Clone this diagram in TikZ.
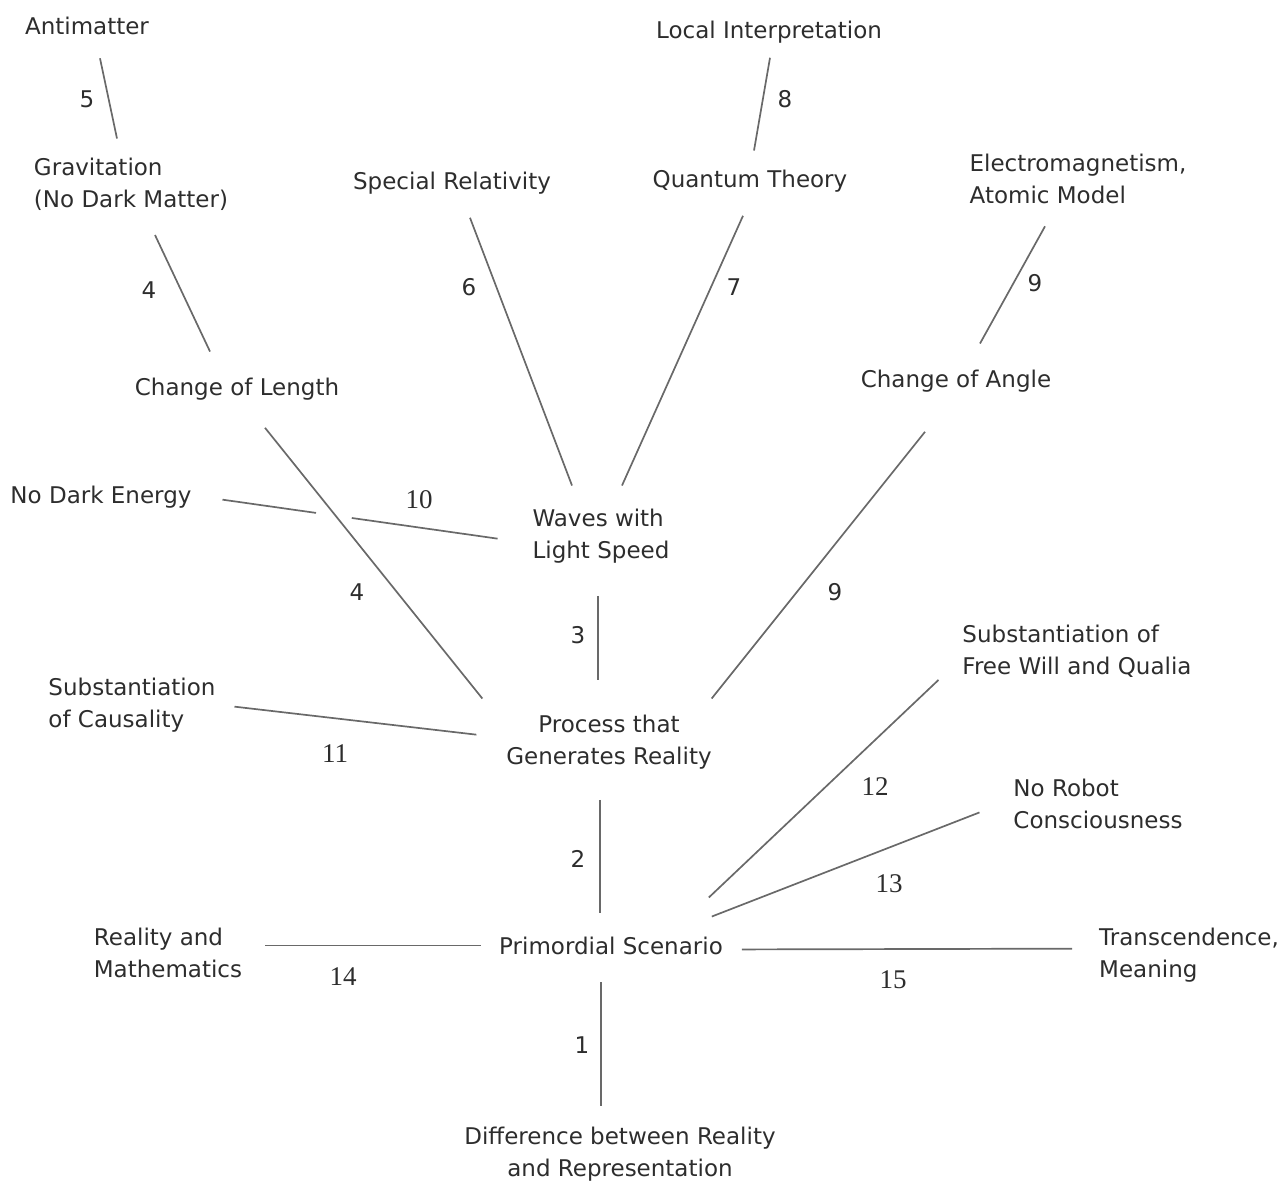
\documentclass[tikz,border=0pt]{standalone}
\usepackage{fontspec}
\setmainfont{DejaVu Sans}
\newfontfamily\numfont{Liberation Serif}
\usetikzlibrary{calc}

\definecolor{inkgray}{RGB}{45,45,45}
\definecolor{linkgray}{RGB}{105,105,105}

\begin{document}
\begin{tikzpicture}[x=1pt,y=-1pt,
    topic/.style={font=\fontsize{23}{32}\selectfont,text=inkgray,inner sep=0pt,outer sep=0pt,anchor=base},
    link/.style={draw=linkgray,line width=1.7pt},
    num/.style={font=\fontsize{23}{28}\selectfont,text=inkgray,inner sep=0pt},
    numserif/.style={font=\numfont\fontsize{27}{30}\selectfont,text=inkgray,inner sep=0pt}]

  \useasboundingbox (0,0) rectangle (1288,1182);

  % top row
  \node[topic] (anti) at (87,35) {Antimatter};
  \node[topic] (local) at (769,39) {Local Interpretation};
  \node[topic,align=left] (grav) at (131,208) {Gravitation\\(No Dark Matter)};
  \node[topic] (srel) at (452,190) {Special Relativity};
  \node[topic] (quant) at (750,188) {Quantum Theory};
  \node[topic,align=left] (elmag) at (1078,204) {Electromagnetism,\\Atomic Model};
  \node[topic] (clen) at (237,395) {Change of Length};
  \node[topic] (cang) at (956,387) {Change of Angle};

  % middle
  \node[topic] (nodark) at (101,503) {No Dark Energy};
  \node[topic,align=left] (waves) at (601,558) {Waves with\\Light Speed};
  \node[topic,align=left] (caus) at (132,727) {Substantiation\\of Causality};
  \node[topic,align=center] (proc) at (609,764) {Process that\\Generates Reality};
  \node[topic,align=left] (will) at (1077,674) {Substantiation of\\Free Will and Qualia};
  \node[topic,align=left] (robot) at (1098,828) {No Robot\\Consciousness};

  % bottom
  \node[topic,align=left] (math) at (168,977) {Reality and\\Mathematics};
  \node[topic] (prim) at (611,954) {Primordial Scenario};
  \node[topic,align=left] (trans) at (1189,977) {Transcendence,\\Meaning};
  \node[topic,align=center] (diff) at (620,1176) {Difference between Reality\\and Representation};

  % connectors
  \draw[link] ([shift={(13,23)}]anti.south) -- ([shift={(-14,-20)}]grav.north);
  \draw[link] ([shift={(24,24)}]grav.south) -- ([shift={(-27,-26)}]clen.north);
  \draw[link] ([shift={(18,23)}]srel.south) -- ([shift={(-29,-23)}]waves.north);
  \draw[link] ([shift={(-7,23)}]quant.south) -- ([shift={(21,-23)}]waves.north);
  \draw[link] ([shift={(1,14)}]local.south) -- ([shift={(4,-20)}]quant.north);
  \draw[link] ([shift={(-33,22)}]elmag.south) -- ([shift={(24,-26)}]cang.north);
  \draw[link] ([shift={(28,28)}]clen.south) -- ([shift={(-24,-16)}]proc.north west);
  \draw[link] ([shift={(-31,40)}]cang.south) -- ([shift={(0,-16)}]proc.north east);
  \path ([shift={(31,3)}]nodark.east) coordinate (de1) ([shift={(-35,3)}]waves.west) coordinate (de2);
  \draw[link] (de1) -- ($(de1)!.34!(de2)$) ($(de1)!.47!(de2)$) -- (de2);
  \draw[link] ([shift={(-3,33)}]waves.south) -- ([shift={(-11,-35)}]proc.north);
  \draw[link] ([shift={(19,2)}]caus.east) -- ([shift={(-30,-7)}]proc.west);
  \draw[link] ([shift={(-9,31)}]proc.south) -- ([shift={(-11,-24)}]prim.north);
  \draw[link] ([shift={(-14,-39)}]prim.north east) -- ([shift={(-24,3)}]will.south west);
  \draw[link] ([shift={(-11,-20)}]prim.north east) -- ([shift={(-34,9)}]robot.west);
  \draw[link] ([shift={(23,-7)}]math.east) -- ([shift={(-18,0)}]prim.west);
  \draw[link] ([shift={(19,4)}]prim.east) -- ([shift={(-27,-6)}]trans.west);
  \draw[link] ([shift={(-10,28)}]prim.south) -- ([shift={(-19,-21)}]diff.north);

  % numbers
  \foreach \t/\x/\y [count=\i] in {5/87/99, 4/149/290, 6/469/287, 7/734/287, 8/785/99,
      9/1035/283, 4/357/592, 9/835/592, 3/578/635, 2/578/859, 1/582/1045}
    \node[num] (num\i) at (\x,\y) {\t};
  \foreach \t/\x/\y [count=\i] in {10/419/500, 11/335/754, 12/875/787, 13/889/884,
      14/343/977, 15/893/980}
    \node[numserif] (ser\i) at (\x,\y) {\t};

\end{tikzpicture}
\end{document}
